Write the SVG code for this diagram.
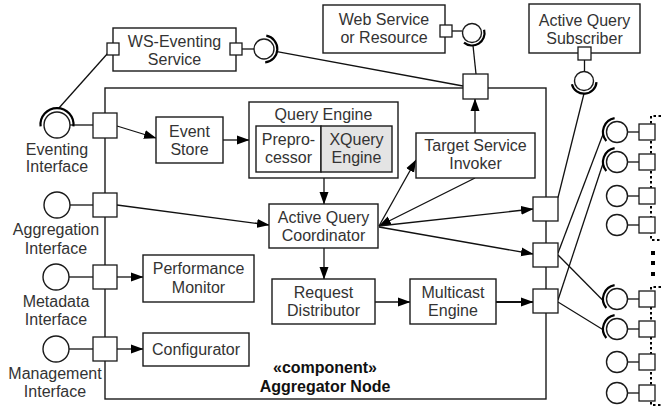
<svg xmlns="http://www.w3.org/2000/svg" width="661" height="412" viewBox="0 0 661 412">
<defs>
  <marker id="arrow" markerUnits="userSpaceOnUse" markerWidth="13" markerHeight="10" refX="12" refY="5" orient="auto">
    <path d="M0,0.5 L12.5,5 L0,9.5 z" fill="#000"/>
  </marker>
  <style>
    .box{fill:#fff;stroke:#1a1a1a;stroke-width:1.4}
    .shade{fill:#e4e4e4}
    .port{fill:#fff;stroke:#1a1a1a;stroke-width:1.3}
    .ball{fill:#fff;stroke:#1a1a1a;stroke-width:1.4}
    .socket{fill:none;stroke:#000;stroke-width:2.2}
    .wire{fill:none;stroke:#111;stroke-width:1.3}
    .flow{fill:none;stroke:#111;stroke-width:1.3;marker-end:url(#arrow)}
    .heavy{stroke-width:2.2}
    .dots{fill:none;stroke:#000;stroke-width:2;stroke-dasharray:2.5 2.5}
    text{font-family:"Liberation Sans",Arial,sans-serif;font-size:16px;fill:#333;text-anchor:middle}
    .bold{font-weight:bold;fill:#111}
  </style>
</defs>

<!-- aggregator component frame -->
<g id="aggregator-node">
  <rect x="105" y="88" width="441" height="311" fill="none" stroke="#1a1a1a" stroke-width="1.4"/>
  <text class="bold" x="325" y="373">«component»</text>
  <text class="bold" x="325" y="392">Aggregator Node</text>
</g>

<!-- connectors -->
<g id="connectors">
  <!-- assembly wires -->
  <path class="wire" d="M58.5,108.5 L108,53"/>
  <path class="wire" d="M70,125 L93,125"/>
  <path class="wire" d="M70,205 L93,205"/>
  <path class="wire" d="M69,277 L93,277"/>
  <path class="wire" d="M69,349 L93,349"/>
  <path class="wire" d="M242,49 L254,49"/>
  <path class="wire" d="M277,51.6 L463,86"/>
  <path class="wire" d="M452,31 L462.5,31"/>
  <path class="wire" d="M473,45.5 L476,74"/>
  <path class="wire" d="M584.5,60 L584.5,71.5"/>
  <path class="wire" d="M584,93.5 L558,197.5"/>
  <path class="wire" d="M558,253 L603.5,133"/>
  <path class="wire" d="M558,300 L603.5,162"/>
  <path class="wire" d="M558,255 L603.5,301"/>
  <path class="wire" d="M558,302 L603.5,330"/>
  <!-- internal flows -->
  <path class="flow" d="M117,126 L156,138"/>
  <path class="flow" d="M223,140 L249,140"/>
  <path class="flow" d="M117,205 L269,225"/>
  <path class="flow" d="M117,277 L143,277"/>
  <path class="flow" d="M117,349 L143,349"/>
  <path class="flow" d="M324,178 L324,204"/>
  <path class="flow" d="M324,248 L324,279"/>
  <path class="flow" d="M375,302 L410,302"/>
  <path class="flow heavy" d="M496,302 L533,302"/>
  <path class="flow" d="M379,226 L416,160"/>
  <path class="flow" d="M475,178 L379,226"/>
  <path class="flow" d="M379,226 L533,209"/>
  <path class="flow" d="M379,227 L533,254"/>
  <path class="flow" d="M475,133 L475,99"/>
</g>

<!-- boundary ports of the aggregator -->
<g id="ports">
  <rect class="port" x="93" y="113" width="24" height="25"/>
  <rect class="port" x="93" y="193" width="24" height="24"/>
  <rect class="port" x="93" y="265" width="24" height="24"/>
  <rect class="port" x="93" y="337" width="24" height="24"/>
  <rect class="port" x="463" y="74" width="25" height="25"/>
  <rect class="port" x="533" y="197" width="25" height="24"/>
  <rect class="port" x="533" y="243" width="25" height="24"/>
  <rect class="port" x="533" y="289" width="25" height="24"/>
</g>

<!-- provided interfaces on the left -->
<g id="eventing-interface">
  <circle class="ball" cx="57" cy="125" r="13"/>
  <path class="socket" d="M40.6,126.4 A16.5,16.5 0 1 1 73.4,126.4"/>
  <text x="57" y="155">Eventing</text>
  <text x="57" y="172">Interface</text>
</g>
<g id="aggregation-interface">
  <circle class="ball" cx="57" cy="205" r="13"/>
  <text x="56" y="235">Aggregation</text>
  <text x="56" y="254">Interface</text>
</g>
<g id="metadata-interface">
  <circle class="ball" cx="56" cy="277" r="13"/>
  <text x="56" y="307">Metadata</text>
  <text x="56" y="325">Interface</text>
</g>
<g id="management-interface">
  <circle class="ball" cx="56" cy="349" r="13"/>
  <text x="55" y="379">Management</text>
  <text x="55" y="397">Interface</text>
</g>

<!-- external components -->
<g id="ws-eventing-service">
  <rect class="box" x="113" y="28" width="123" height="43"/>
  <text x="174.5" y="47">WS-Eventing</text>
  <text x="174.5" y="65">Service</text>
  <rect class="port" x="107" y="43" width="12" height="12"/>
  <rect class="port" x="230" y="43" width="12" height="12"/>
  <circle class="ball" cx="264" cy="49" r="10"/>
  <path class="socket" d="M266.3,35.7 A13.5,13.5 0 0 1 265.2,62.4"/>
</g>
<g id="web-service">
  <rect class="box" x="323" y="5" width="122" height="48"/>
  <text x="384" y="25">Web Service</text>
  <text x="384" y="43">or Resource</text>
  <rect class="port" x="440" y="25" width="12" height="12"/>
  <circle class="ball" cx="472" cy="33" r="9.5"/>
  <path class="socket" d="M484.1,29.8 A12.5,12.5 0 0 1 464,42.6"/>
</g>
<g id="active-query-subscriber">
  <rect class="box" x="529" y="4" width="111" height="49"/>
  <text x="584.5" y="26">Active Query</text>
  <text x="584.5" y="44">Subscriber</text>
  <rect class="port" x="578" y="47" width="13" height="13"/>
  <circle class="ball" cx="584" cy="81" r="9.5"/>
  <path class="socket" d="M596.5,82.1 A12.5,12.5 0 0 1 571.9,84.2"/>
</g>

<!-- internal parts -->
<g id="event-store">
  <rect class="box" x="156" y="117" width="67" height="46"/>
  <text x="189.5" y="137">Event</text>
  <text x="189.5" y="155">Store</text>
</g>
<g id="query-engine">
  <rect class="box" x="249" y="102" width="149" height="76"/>
  <text x="323.5" y="120">Query Engine</text>
  <rect class="box" x="256" y="126" width="65" height="46"/>
  <text x="288.5" y="145">Prepro-</text>
  <text x="288.5" y="163">cessor</text>
  <rect class="box shade" x="321" y="126" width="71" height="46"/>
  <text x="356.5" y="145">XQuery</text>
  <text x="356.5" y="163">Engine</text>
</g>
<g id="active-query-coordinator">
  <rect class="box" x="269" y="204" width="109" height="44"/>
  <text x="323.5" y="223">Active Query</text>
  <text x="323.5" y="241">Coordinator</text>
</g>
<g id="target-service-invoker">
  <rect class="box" x="416" y="133" width="119" height="45"/>
  <text x="475.5" y="151">Target Service</text>
  <text x="475.5" y="169">Invoker</text>
</g>
<g id="request-distributor">
  <rect class="box" x="272" y="279" width="103" height="45"/>
  <text x="323.5" y="298">Request</text>
  <text x="323.5" y="316">Distributor</text>
</g>
<g id="multicast-engine">
  <rect class="box" x="410" y="279" width="86" height="45"/>
  <text x="453" y="298">Multicast</text>
  <text x="453" y="316">Engine</text>
</g>
<g id="performance-monitor">
  <rect class="box" x="143" y="255" width="111" height="47"/>
  <text x="198.5" y="274">Performance</text>
  <text x="198.5" y="293">Monitor</text>
</g>
<g id="configurator">
  <rect class="box" x="143" y="333" width="106" height="33"/>
  <text x="196" y="355">Configurator</text>
</g>

<!-- peer aggregators on the right -->
<g id="peer-group-upper">
  <path class="dots" d="M661,116 H651 V240 H661"/>
  <g class="wire">
    <path d="M627.5,132 H639"/><path d="M627.5,162 H639"/>
    <path d="M627.5,196 H639"/><path d="M627.5,225 H639"/>
  </g>
  <circle class="ball" cx="617" cy="132" r="10.5"/>
  <circle class="ball" cx="617" cy="162" r="10.5"/>
  <circle class="ball" cx="617" cy="196" r="10.5"/>
  <circle class="ball" cx="617" cy="225" r="10.5"/>
  <path class="socket" d="M614.6,118.2 A14,14 0 0 0 606.3,141"/>
  <path class="socket" d="M614.6,148.2 A14,14 0 0 0 606.3,171"/>
  <rect class="port" x="639" y="124" width="16" height="16"/>
  <rect class="port" x="639" y="154" width="16" height="16"/>
  <rect class="port" x="639" y="188" width="16" height="16"/>
  <rect class="port" x="639" y="217" width="16" height="16"/>
</g>
<g id="peer-ellipsis">
  <rect x="651" y="251" width="4" height="4" fill="#000"/>
  <rect x="651" y="261" width="4" height="4" fill="#000"/>
  <rect x="651" y="272" width="4" height="4" fill="#000"/>
</g>
<g id="peer-group-lower">
  <path class="dots" d="M661,287 H651 V405 H661"/>
  <g class="wire">
    <path d="M627.5,299 H639"/><path d="M627.5,329 H639"/>
    <path d="M627.5,362 H639"/><path d="M627.5,393 H639"/>
  </g>
  <circle class="ball" cx="617" cy="299" r="10.5"/>
  <circle class="ball" cx="617" cy="329" r="10.5"/>
  <circle class="ball" cx="617" cy="362" r="10.5"/>
  <circle class="ball" cx="617" cy="393" r="10.5"/>
  <path class="socket" d="M614.6,285.2 A14,14 0 0 0 606.3,308"/>
  <path class="socket" d="M614.6,315.2 A14,14 0 0 0 606.3,338"/>
  <rect class="port" x="639" y="291" width="16" height="16"/>
  <rect class="port" x="639" y="321" width="16" height="16"/>
  <rect class="port" x="639" y="354" width="16" height="16"/>
  <rect class="port" x="639" y="385" width="16" height="16"/>
</g>
</svg>
